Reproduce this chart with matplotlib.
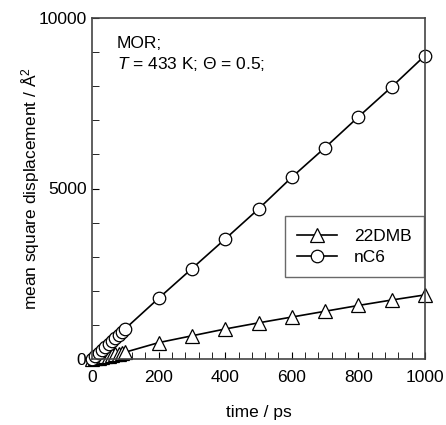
import matplotlib
matplotlib.use("Agg")
import matplotlib.pyplot as plt
from matplotlib.ticker import MultipleLocator

plt.rcParams['font.family'] = ['Liberation Sans', 'DejaVu Sans']
plt.rcParams['mathtext.fontset'] = 'custom'
plt.rcParams['mathtext.it'] = 'Liberation Sans:italic'
plt.rcParams['mathtext.rm'] = 'Liberation Sans'

time_short = [0, 10, 20, 30, 40, 50, 60, 70, 80, 90, 100]
time_long = [200, 300, 400, 500, 600, 700, 800, 900, 1000]

nc6_short = [0, 90, 180, 270, 355, 445, 530, 620, 710, 800, 890]
nc6_long = [1780, 2650, 3520, 4400, 5330, 6200, 7100, 7980, 8900]

dmb_short = [0, 20, 40, 60, 80, 100, 120, 140, 160, 180, 200]
dmb_long = [480, 680, 880, 1060, 1230, 1400, 1570, 1730, 1880]

time = time_short + time_long
nc6 = nc6_short + nc6_long
dmb = dmb_short + dmb_long

FS = 12.5

fig = plt.figure(figsize=(4.46, 4.25), dpi=100)
ax = fig.add_axes([92/446, 1-359/425, 333/446, 341/425])

ax.plot(time, dmb, '-', color='black', lw=1.2, marker='^', ms=10,
        mfc='white', mec='black', mew=0.9, label='22DMB', clip_on=False)
ax.plot(time, nc6, '-', color='black', lw=1.2, marker='o', ms=9,
        mfc='white', mec='black', mew=0.9, label='nC6', clip_on=False)

ax.set_xlim(0, 1000)
ax.set_ylim(0, 10000)
ax.set_xticks([0, 200, 400, 600, 800, 1000])
ax.set_yticks([0, 5000, 10000])
ax.xaxis.set_minor_locator(MultipleLocator(40))
ax.yaxis.set_minor_locator(MultipleLocator(1000))
ax.tick_params(which='both', direction='in', top=False, right=False, labelsize=FS)
ax.tick_params(which='major', length=5)
ax.tick_params(which='minor', length=5)
ax.tick_params(axis='x', pad=8)
ax.tick_params(axis='y', pad=4)
for s in ax.spines.values():
    s.set_color('#444444')
    s.set_linewidth(1.2)

ax.set_xlabel('time / ps', fontsize=FS, labelpad=14)
ax.set_ylabel('mean square displacement / Å$^2$', fontsize=FS)
ax.yaxis.set_label_coords(-0.15, 0.5)

ax.text(0.075, 0.925, 'MOR;', transform=ax.transAxes, fontsize=FS, va='center')
ax.text(0.075, 0.865, r'$T$ = 433 K; Θ = 0.5;', transform=ax.transAxes, fontsize=FS, va='center')

leg = ax.legend(loc='upper right', bbox_to_anchor=(0.997, 0.418), fontsize=FS,
                frameon=True, fancybox=False, edgecolor='#444444',
                handlelength=2.3, borderpad=0.7, labelspacing=0.35,
                handletextpad=1.0, borderaxespad=0.0)
leg.get_frame().set_linewidth(1.0)

fig.savefig('out.png', dpi=100)
